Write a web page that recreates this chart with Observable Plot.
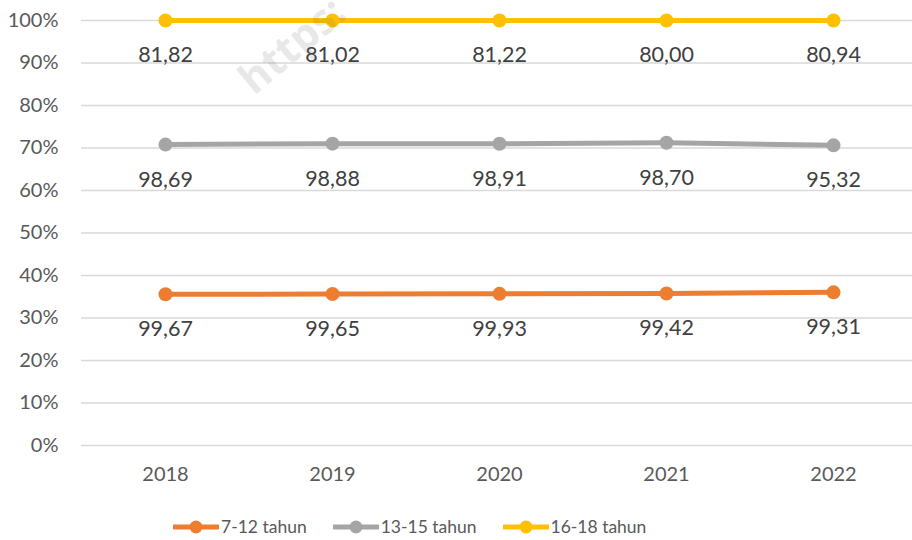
<!DOCTYPE html>
<html>
<head>
<meta charset="utf-8">
<script src="https://cdn.jsdelivr.net/npm/d3@7"></script>
<script src="https://cdn.jsdelivr.net/npm/@observablehq/plot@0.6"></script>
<style>
  html, body { margin: 0; padding: 0; background: #fff; }
  #wrap { position: relative; width: 912px; height: 540px; overflow: hidden; font-family: Lato, sans-serif; }
  #legend { display: flex; align-items: center; margin-left: 173px; margin-top: 16px; font-size: 17.5px; color: #595959; }
  .item { display: flex; align-items: center; margin-right: 26px; }
  .item svg { margin-right: 2px; }
  #wm { position: absolute; left: 0; top: 0; pointer-events: none; }
</style>
</head>
<body>
<div id="wrap">
  <div id="chart"></div>
  <div id="legend"></div>
  <svg id="wm" width="912" height="540"><text x="254" y="96" transform="rotate(-40 254 96)" font-family="Open Sans, sans-serif" font-weight="bold" font-size="42" fill="rgb(110,110,110)" fill-opacity="0.17">https:</text></svg>
</div>
<script>
const years = ["2018", "2019", "2020", "2021", "2022"];
const seriesNames = ["7-12 tahun", "13-15 tahun", "16-18 tahun"];
const values712 = [99.67, 99.65, 99.93, 99.42, 99.31];
const values1315 = [98.69, 98.88, 98.91, 98.70, 95.32];
const values1618 = [81.82, 81.02, 81.22, 80.00, 80.94];
const colors = ["#ED7D31", "#A5A5A5", "#FFC000"];
const yTicks = [0, 0.1, 0.2, 0.3, 0.4, 0.5, 0.6, 0.7, 0.8, 0.9, 1];

const seriesValues = [values712, values1315, values1618];
const data = seriesNames.flatMap((s, k) => years.map((y, i) => ({year: y, series: s, value: seriesValues[k][i]})));
const fmt = v => v.toFixed(2).replace(".", ",");
const st = {x: "year", y: "value", z: "series", offset: "normalize"};

const chart = Plot.plot({
  width: 912,
  height: 500,
  marginLeft: 81,
  marginRight: -4,
  marginTop: 20,
  marginBottom: 55,
  style: {fontFamily: "Lato, sans-serif", fontSize: "20px", background: "white"},
  x: {type: "point", domain: years, padding: 0.5},
  y: {domain: [0, 1]},
  color: {domain: seriesNames, range: colors},
  marks: [
    Plot.gridY(yTicks, {stroke: "#D9D9D9", strokeOpacity: 1, strokeWidth: 1.5}),
    Plot.axisY(yTicks, {tickSize: 0, tickPadding: 23, label: null, fill: "#595959", tickFormat: d => Math.round(d * 100) + "%"}),
    Plot.axisX({tickSize: 0, tickPadding: 21, label: null, fill: "#595959"}),
    Plot.line(data, Plot.stackY2({...st, stroke: "series", strokeWidth: 5})),
    Plot.dot(data, Plot.stackY2({...st, fill: "series", r: 7})),
    Plot.text(data, Plot.stackY2({...st, text: d => fmt(d.value), dy: 35, fill: "#404040", fontSize: 21.5}))
  ]
});
document.getElementById("chart").appendChild(chart);

const legend = document.getElementById("legend");
seriesNames.forEach((s, k) => {
  const item = document.createElement("div");
  item.className = "item";
  item.innerHTML = `<svg width="46" height="16"><line x1="1" x2="45" y1="8" y2="8" stroke="${colors[k]}" stroke-width="5" stroke-linecap="round"/><circle cx="23" cy="8" r="6.5" fill="${colors[k]}"/></svg><span>${s}</span>`;
  legend.appendChild(item);
});
</script>
</body>
</html>
